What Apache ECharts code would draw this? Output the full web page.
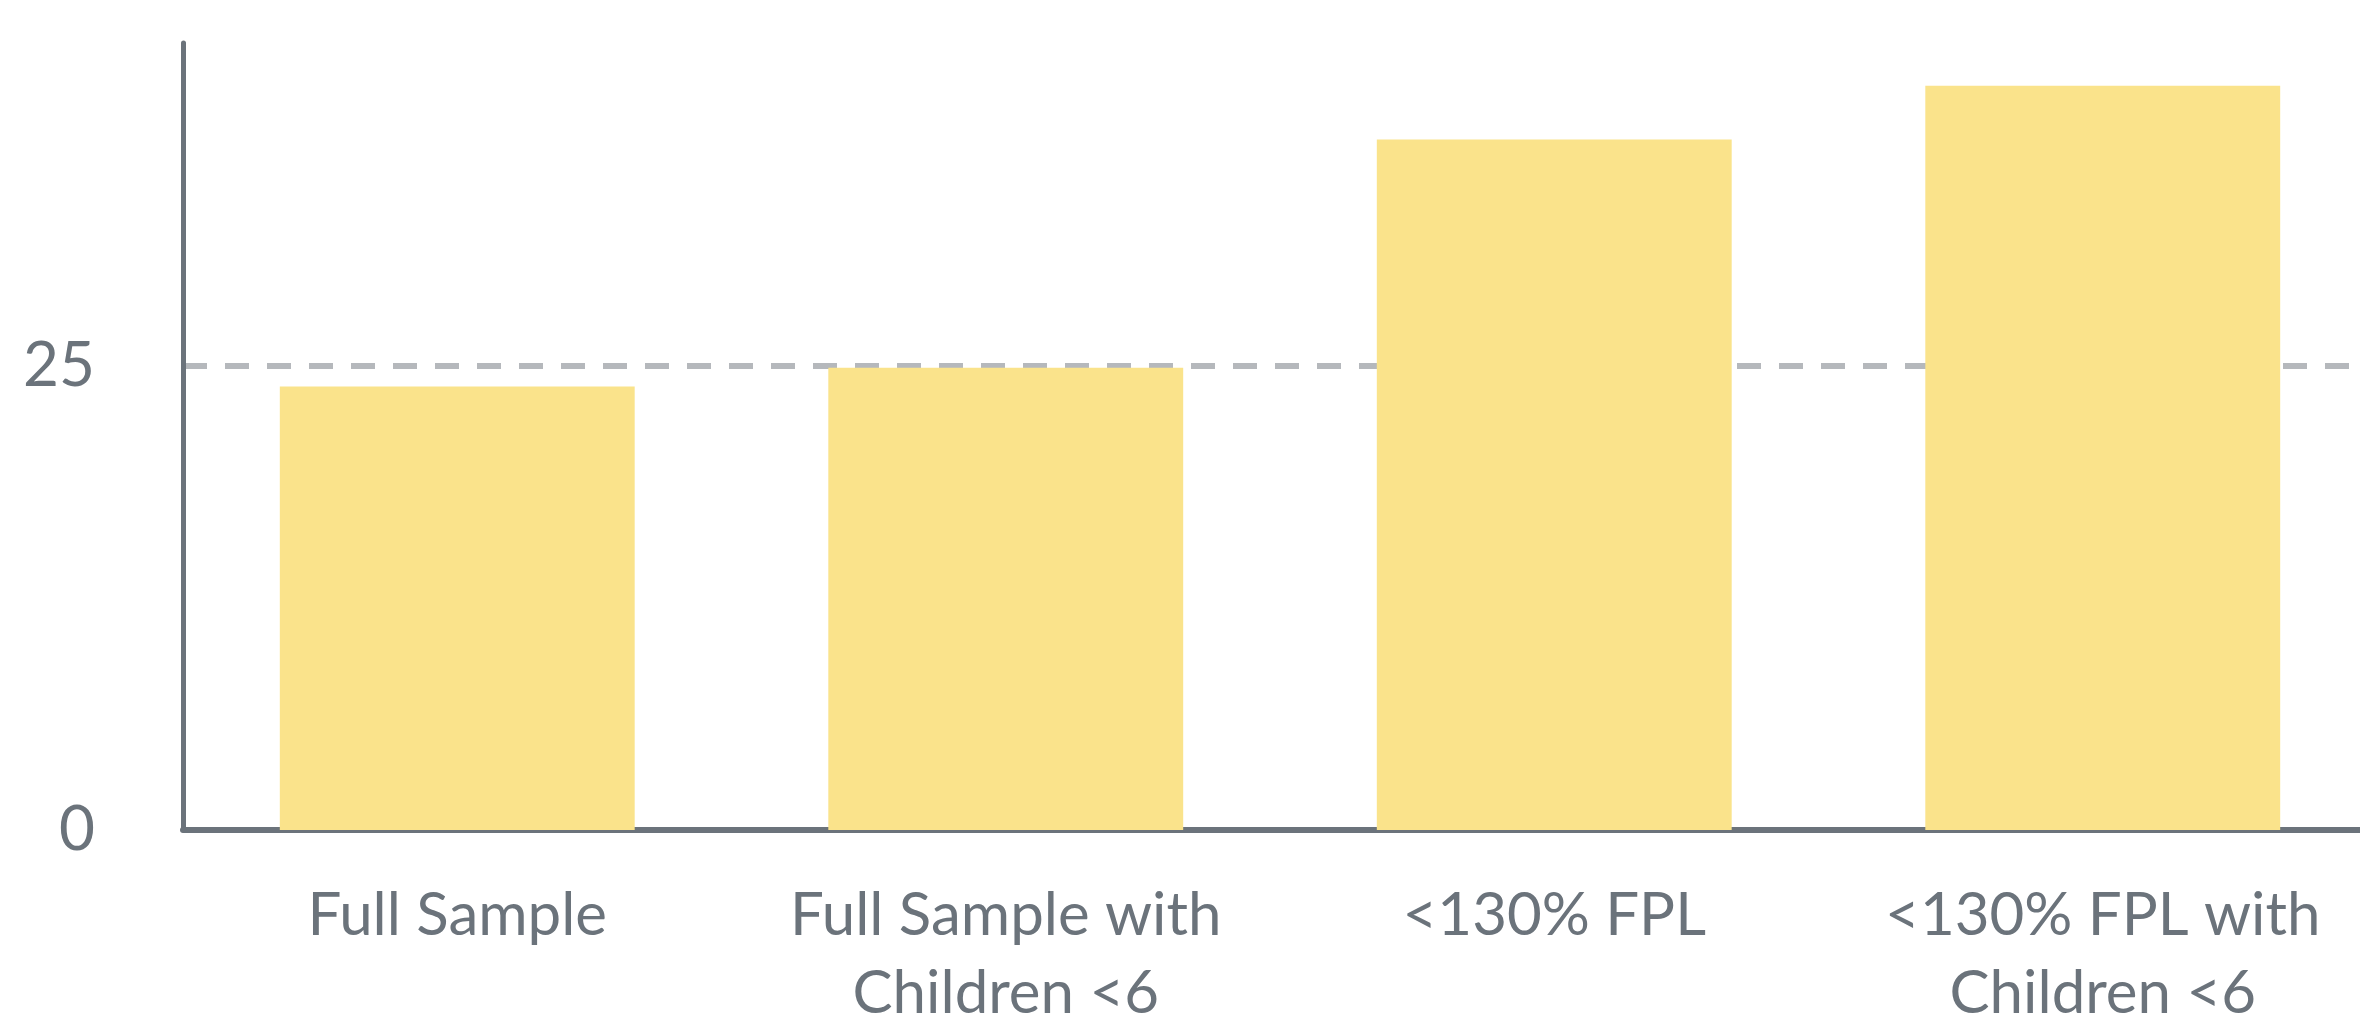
<!DOCTYPE html>
<html>
<head>
<meta charset="utf-8">
<script src="https://cdn.jsdelivr.net/npm/echarts@6/dist/echarts.min.js"></script>
<style>
  html, body { margin: 0; padding: 0; background: #fff; }
  #chart { width: 2360px; height: 1015px; }
</style>
</head>
<body>
<div id="chart"></div>
<script>
// data
var categories = ['Full Sample', 'Full Sample with\nChildren <6', '<130% FPL', '<130% FPL with\nChildren <6'];
var values = [23.9, 24.9, 37.2, 40.1];
var yMax = 42.4;
var yStep = 25;

var axisGrey = '#6b737b';

var myChart = echarts.init(document.getElementById('chart'));

option = {
    animation: false,
    grid: {
        left: 183,
        top: 43,
        width: 2194,
        height: 787,
        containLabel: false,
        outerBoundsMode: 'none'
    },
    xAxis: {
        type: 'category',
        data: categories,
        axisLine: { show: true, lineStyle: { color: axisGrey, width: 6 } },
        axisTick: { show: false },
        axisLabel: {
            color: axisGrey,
            fontFamily: 'Lato',
            fontSize: 60,
            lineHeight: 78,
            margin: 47,
            interval: 0
        }
    },
    yAxis: {
        type: 'value',
        min: 0,
        max: yMax,
        interval: yStep,
        axisLine: { show: true, lineStyle: { color: axisGrey, width: 5 } },
        axisTick: { show: false },
        axisLabel: {
            color: axisGrey,
            fontFamily: 'Lato',
            fontSize: 62,
            margin: 88,
            showMaxLabel: false
        },
        splitLine: {
            show: true,
            showMinLine: false,
            showMaxLine: false,
            lineStyle: { color: '#b5b8bc', width: 6, type: [24, 18] }
        }
    },
    series: [
        {
            type: 'bar',
            data: values,
            barWidth: '64.7%',
            itemStyle: { color: '#fae38b' }
        }
    ]
};

myChart.setOption(option);
</script>
</body>
</html>
